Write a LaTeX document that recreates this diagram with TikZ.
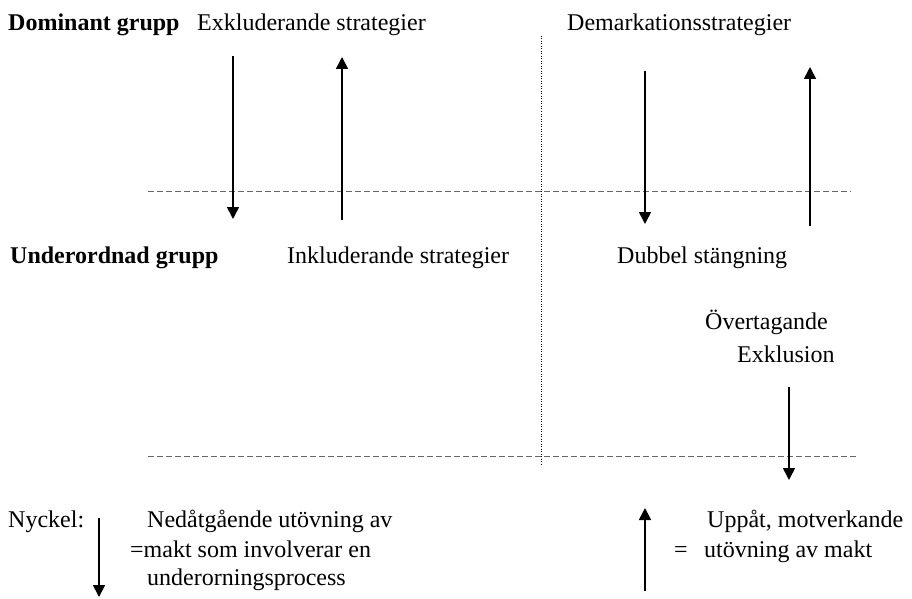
\documentclass[tikz,border=0pt]{standalone}
\usepackage{fontspec}
\setmainfont{Liberation Serif}
\usetikzlibrary{arrows.meta, positioning}
\tikzset{
    lbl/.style={anchor=base west, inner sep=0pt, font=\fontsize{24}{30}\selectfont},
    grp/.style={lbl, font=\fontsize{24}{30}\selectfont\bfseries},
    power/.style={line width=1.6pt, -{Triangle[width=12pt, length=12pt]}},
    split/.style={draw=black!60, line width=1pt, dash pattern=on 6pt off 3pt},
    divide/.style={line width=0.8pt, dash pattern=on 1pt off 1.5pt},
}

\begin{document}
\begin{tikzpicture}[x=1pt, y=-1pt]
    \useasboundingbox (0,0) rectangle (912,599);

    % groups and strategies
    \node[grp] (dom) at (8,31) {Dominant grupp};
    \node[lbl] (excl) at (197,31) {Exkluderande strategier};
    \node[lbl] (demark) at (567,31) {Demarkationsstrategier};

    \node[grp] (sub) at (10,263) {Underordnad grupp};
    \node[lbl] (incl) at (287,263) {Inkluderande strategier};
    \node[lbl] (dubbel) at (617,263) {Dubbel stängning};

    \node[lbl] (over) at (705,329) {Övertagande};
    \node[lbl] (exklu) at (737,362) {Exklusion};

    % dividing lines
    \coordinate (s1l) at (148,191);
    \coordinate (s1r) at (851,191);
    \coordinate (s2l) at (148,456);
    \coordinate (s2r) at (858,456);
    \coordinate (vtop) at (541,36);
    \coordinate (vbot) at (541,465);

    \draw[split] (s1l) -- (s1r);
    \draw[split] (s2l) -- (s2r);
    \draw[divide] (vtop) -- (vbot);

    % power arrows
    \coordinate (e1) at (233,56);
    \coordinate (e2) at (233,219);
    \coordinate (i1) at (342,220);
    \coordinate (i2) at (342,57);
    \coordinate (d1) at (645,71);
    \coordinate (d2) at (645,224);
    \coordinate (u1) at (810,226);
    \coordinate (u2) at (810,67);
    \coordinate (o1) at (789,387);
    \coordinate (o2) at (789,480);

    \draw[power] (e1) -- (e2);
    \draw[power] (i1) -- (i2);
    \draw[power] (d1) -- (d2);
    \draw[power] (u1) -- (u2);
    \draw[power] (o1) -- (o2);

    % key
    \node[lbl] (key) at (8,527) {Nyckel:};
    \coordinate (kd1) at (99,518);
    \coordinate (kd2) at (99,597);
    \draw[power] (kd1) -- (kd2);

    \node[lbl] (down1) at (147,527) {Nedåtgående utövning av};
    \node[lbl] (down2) at (130,557) {=makt som involverar en};
    \node[lbl] (down3) at (147,585) {underorningsprocess};

    \coordinate (ku1) at (645,591);
    \coordinate (ku2) at (645,508);
    \draw[power] (ku1) -- (ku2);

    \node[lbl] (up1) at (707,527) {Uppåt, motverkande};
    \node[lbl] (upeq) at (674,557) {=};
    \node[lbl] (up2) at (704,557) {utövning av makt};
\end{tikzpicture}
\end{document}
